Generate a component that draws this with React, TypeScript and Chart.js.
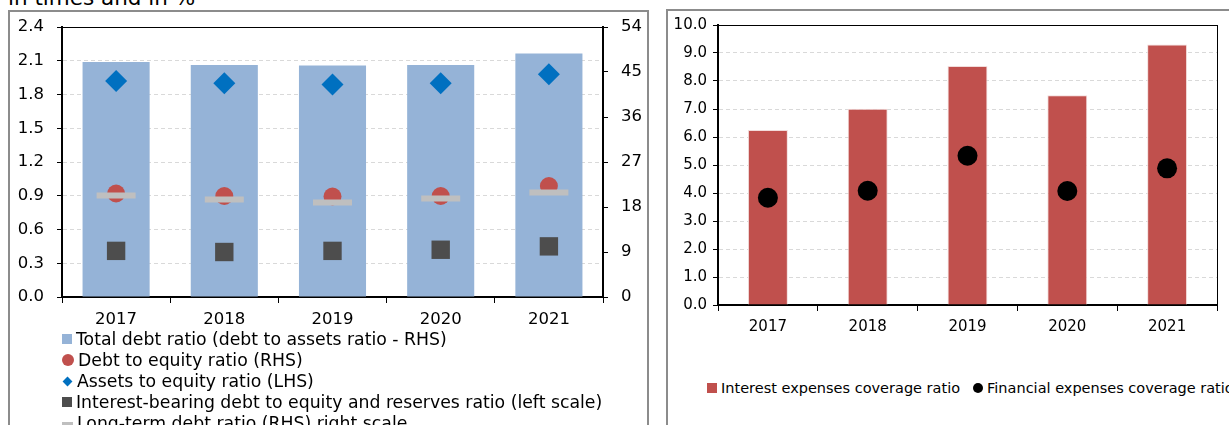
import React, { useEffect, useRef } from 'react';
import { Chart, registerables } from 'chart.js';

Chart.register(...registerables);

const FONT = "'DejaVu Sans', Verdana, sans-serif";

// ---- Data: left chart ----
const years = ['2017', '2018', '2019', '2020', '2021'];
const totalDebtRatio = [47.0, 46.4, 46.3, 46.4, 48.7]; // RHS, bars
const debtToEquity = [20.7, 20.2, 20.1, 20.2, 22.2]; // RHS, circles
const assetsToEquity = [1.92, 1.9, 1.89, 1.9, 1.98]; // LHS, diamonds
const interestBearingDebt = [0.41, 0.4, 0.41, 0.42, 0.45]; // LHS, squares
const longTermDebt = [20.3, 19.5, 18.9, 19.7, 20.9]; // RHS, dashes

const leftAxisMax = 2.4;
const leftAxisStep = 0.3;
const rightAxisMax = 54;
const rightAxisStep = 9;

const leftLabels = [
  'Total debt ratio (debt to assets ratio - RHS)',
  'Debt to equity ratio (RHS)',
  'Assets to equity ratio (LHS)',
  'Interest-bearing debt to equity and reserves ratio (left scale)',
  'Long-term debt ratio (RHS) right scale',
];

// ---- Data: right chart ----
const interestCoverage = [6.25, 7.01, 8.54, 7.49, 9.3];
const financialCoverage = [3.83, 4.08, 5.33, 4.07, 4.88];
const coverageAxisMax = 10;
const coverageAxisStep = 1;
const rightLabels = ['Interest expenses coverage ratio', 'Financial expenses coverage ratio'];

const TITLE = 'in times and in %';

const COLORS = {
  bar: '#95B3D7',
  circle: '#C0504D',
  diamond: '#0070C0',
  square: '#4D4D4D',
  dash: '#BFBFBF',
  redBar: '#C0504D',
  dot: '#000000',
};

const framePlugin = {
  id: 'plotFrame',
  afterDraw(chart: any) {
    const { ctx, chartArea: a } = chart;
    ctx.save();
    ctx.strokeStyle = '#000';
    ctx.lineWidth = 1;
    ctx.strokeRect(Math.round(a.left) + 0.5, Math.round(a.top) + 0.5, Math.round(a.right - a.left), Math.round(a.bottom - a.top));
    ctx.restore();
  },
};

const fixWidth = (w: number) => (s: any) => {
  s.width = w;
  s.paddingTop = 0;
  s.paddingBottom = 0;
};

const leftTickFont = { family: FONT, size: 16.5 };
const rightTickFont = { family: FONT, size: 15 };

function LeftChart() {
  const ref = useRef<HTMLCanvasElement>(null);
  useEffect(() => {
    const chart = new Chart(ref.current!, {
      type: 'bar',
      data: {
        labels: years,
        datasets: [
          {
            type: 'line', label: leftLabels[4], data: longTermDebt, yAxisID: 'y2', showLine: false,
            pointStyle: 'line', pointRadius: 19.5, pointBorderWidth: 6, pointBorderColor: COLORS.dash,
            pointBackgroundColor: COLORS.dash, order: 1,
          } as any,
          {
            type: 'line', label: leftLabels[1], data: debtToEquity, yAxisID: 'y2', showLine: false,
            pointStyle: 'circle', pointRadius: 9, pointBorderWidth: 0, pointBackgroundColor: COLORS.circle, order: 2,
          } as any,
          {
            type: 'line', label: leftLabels[2], data: assetsToEquity, yAxisID: 'y', showLine: false,
            pointStyle: 'rectRot', pointRadius: 11, pointBorderWidth: 0, pointBackgroundColor: COLORS.diamond, order: 3,
          } as any,
          {
            type: 'line', label: leftLabels[3], data: interestBearingDebt, yAxisID: 'y', showLine: false,
            pointStyle: 'rect', pointRadius: 13, pointBorderWidth: 0, pointBackgroundColor: COLORS.square, order: 4,
          } as any,
          {
            type: 'bar', label: leftLabels[0], data: totalDebtRatio, yAxisID: 'y2', backgroundColor: COLORS.bar,
            barPercentage: 0.62, categoryPercentage: 1, order: 10,
          } as any,
        ],
      },
      options: {
        animation: false,
        responsive: false,
        maintainAspectRatio: false,
        layout: { autoPadding: false, padding: { top: 15, left: 0, right: 0, bottom: 0 } },
        plugins: { legend: { display: false }, tooltip: { enabled: false } },
        scales: {
          x: {
            grid: { offset: true, drawOnChartArea: false, tickLength: 6, tickColor: '#000' },
            border: { color: '#000', width: 2 },
            ticks: { font: leftTickFont, color: '#000', padding: 7 },
            afterFit: (s: any) => { s.height = 40; },
          },
          y: {
            position: 'left', min: 0, max: leftAxisMax,
            ticks: { stepSize: leftAxisStep, font: leftTickFont, color: '#000', padding: 13, callback: (v: any) => Number(v).toFixed(1) },
            grid: { color: '#D9D9D9', tickColor: '#000', tickLength: 5, tickBorderDash: [] },
            border: { color: '#000', width: 2, dash: [4, 3] },
            afterFit: fixWidth(52),
          },
          y2: {
            position: 'right', min: 0, max: rightAxisMax,
            ticks: { stepSize: rightAxisStep, font: leftTickFont, color: '#000', padding: 13 },
            grid: { drawOnChartArea: false, tickColor: '#000', tickLength: 5 },
            border: { color: '#000', width: 2 },
            afterFit: fixWidth(43),
          },
        },
      } as any,
      plugins: [framePlugin],
    });
    return () => chart.destroy();
  }, []);
  return <canvas ref={ref} width={636} height={325} style={{ position: 'absolute', left: 10, top: 12, width: 636, height: 325 }} />;
}

function RightChart() {
  const ref = useRef<HTMLCanvasElement>(null);
  useEffect(() => {
    const chart = new Chart(ref.current!, {
      type: 'bar',
      data: {
        labels: years,
        datasets: [
          {
            type: 'line', label: rightLabels[1], data: financialCoverage, showLine: false,
            pointStyle: 'circle', pointRadius: 10, pointBorderWidth: 0, pointBackgroundColor: COLORS.dot, order: 1,
          } as any,
          {
            type: 'bar', label: rightLabels[0], data: interestCoverage, backgroundColor: COLORS.redBar,
            borderColor: '#F2DCDB', borderWidth: 1, barPercentage: 0.4, categoryPercentage: 1, order: 2,
          } as any,
        ],
      },
      options: {
        animation: false,
        responsive: false,
        maintainAspectRatio: false,
        layout: { autoPadding: false, padding: { top: 14, left: 0, right: 91, bottom: 0 } },
        plugins: { legend: { display: false }, tooltip: { enabled: false } },
        scales: {
          x: {
            grid: { offset: true, drawOnChartArea: false, tickLength: 6, tickColor: '#000' },
            border: { color: '#000', width: 2 },
            ticks: { font: rightTickFont, color: '#000', padding: 7 },
            afterFit: (s: any) => { s.height = 40; },
          },
          y: {
            position: 'left', min: 0, max: coverageAxisMax,
            ticks: { stepSize: coverageAxisStep, font: rightTickFont, color: '#000', padding: 6, callback: (v: any) => Number(v).toFixed(1) },
            grid: { color: '#D9D9D9', tickColor: '#000', tickLength: 5, tickBorderDash: [] },
            border: { color: '#000', width: 2, dash: [4, 3] },
            afterFit: fixWidth(50),
          },
        },
      } as any,
      plugins: [framePlugin],
    });
    return () => chart.destroy();
  }, []);
  return <canvas ref={ref} width={640} height={334} style={{ position: 'absolute', left: 668, top: 11, width: 640, height: 334 }} />;
}

const legendText: React.CSSProperties = { fontFamily: FONT, color: '#000', whiteSpace: 'nowrap' };

function Marker({ kind, color }: { kind: string; color: string }) {
  const base: React.CSSProperties = { display: 'inline-block', verticalAlign: 'middle', marginRight: 4 };
  if (kind === 'square') return <span style={{ ...base, width: 10, height: 10, background: color }} />;
  if (kind === 'circle') return <span style={{ ...base, width: 12, height: 12, borderRadius: 6, background: color }} />;
  if (kind === 'diamond') return <span style={{ ...base, width: 7, height: 7, background: color, transform: 'rotate(45deg)', marginLeft: 2, marginRight: 6 }} />;
  if (kind === 'dot') return <span style={{ ...base, width: 10, height: 10, borderRadius: 5, background: color }} />;
  return <span style={{ ...base, width: 11, height: 3, background: color }} />;
}

export default function App() {
  const leftKinds = ['square', 'circle', 'diamond', 'square', 'line'];
  const leftColors = [COLORS.bar, COLORS.circle, COLORS.diamond, COLORS.square, COLORS.dash];
  return (
    <div style={{ position: 'fixed', left: 0, top: 0, width: 1229, height: 425, overflow: 'hidden', background: '#fff' }}>
      <div style={{ position: 'absolute', left: 8, top: -13, fontFamily: FONT, fontSize: 21.5, lineHeight: '22px', whiteSpace: 'nowrap', color: '#000' }}>{TITLE}</div>
      <div style={{ position: 'absolute', left: 8, top: 10, width: 641, height: 440, border: '2px solid #8c8c8c', boxSizing: 'border-box' }} />
      <div style={{ position: 'absolute', left: 666, top: 9, width: 640, height: 440, border: '2px solid #8c8c8c', boxSizing: 'border-box' }} />
      <LeftChart />
      <RightChart />
      <div style={{ position: 'absolute', left: 62, top: 328 }}>
        {leftLabels.map((l, i) => (
          <div key={l} style={{ ...legendText, fontSize: 17.3, height: 21, lineHeight: '21px' }}>
            <Marker kind={leftKinds[i]} color={leftColors[i]} />
            <span style={{ verticalAlign: 'middle' }}>{l}</span>
          </div>
        ))}
      </div>
      <div style={{ position: 'absolute', left: 707, top: 377, ...legendText, fontSize: 14.5, lineHeight: '21px' }}>
        <Marker kind="square" color={COLORS.redBar} />
        <span style={{ verticalAlign: 'middle', marginRight: 13 }}>{rightLabels[0]}</span>
        <Marker kind="dot" color={COLORS.dot} />
        <span style={{ verticalAlign: 'middle' }}>{rightLabels[1]}</span>
      </div>
    </div>
  );
}
